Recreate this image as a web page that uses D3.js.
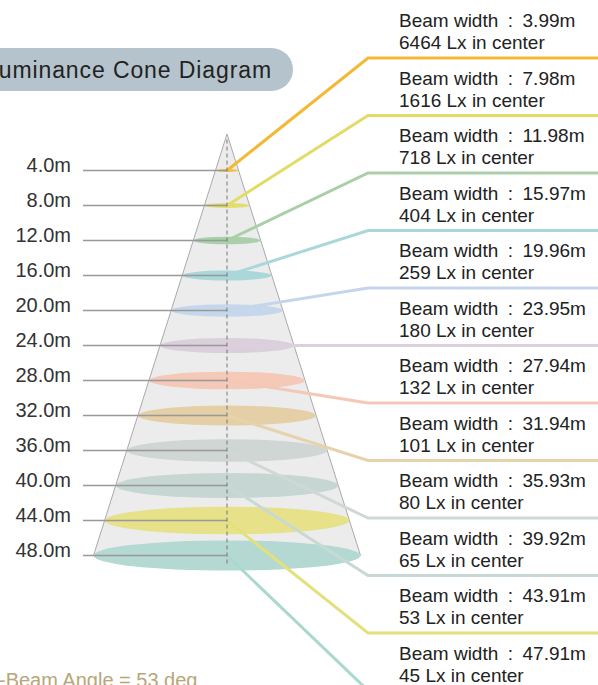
<!DOCTYPE html>
<html><head><meta charset="utf-8">
<script src="https://cdn.jsdelivr.net/npm/d3@7"></script>
<style>
html,body{margin:0;padding:0;background:#fff;overflow:hidden;}
svg{display:block;}
text{font-family:"Liberation Sans",Arial,sans-serif;}
</style></head>
<body>
<svg id="chart" width="598" height="685"></svg>
<script>
const depths = [4, 8, 12, 16, 20, 24, 28, 32, 36, 40, 44, 48];
const depthLabels = ["4.0m","8.0m","12.0m","16.0m","20.0m","24.0m","28.0m","32.0m","36.0m","40.0m","44.0m","48.0m"];
const beamWidths = [3.99, 7.98, 11.98, 15.97, 19.96, 23.95, 27.94, 31.94, 35.93, 39.92, 43.91, 47.91];
const luxCenter = [6464, 1616, 718, 404, 259, 180, 132, 101, 80, 65, 53, 45];
const ellipseColors = ["#f5bd3e","#e3dd6c","#a9d0ab","#a9d7da","#c6d7ec","#dacfdb","#f4c9b8","#e4cfa7","#cfd6d4","#c6d6d3","#e7e18a","#b4d8d2"];
const lineColors = ["#f4b934","#e2dc66","#a8cfa8","#aad7db","#c4d6ec","#dcd0dc","#f5c7b6","#e6d3ac","#d0d8d6","#c8d9d5","#e4e07c","#aad8cf"];
const title = "Illuminance Cone Diagram";
const footnote = "-Beam Angle = 53 deg";

const svg = d3.select("#chart");
const cx = 227;
const y = d3.scaleLinear().domain([0, 48]).range([135.5, 555.5]);
const w = d3.scaleLinear().domain([0, 47.91]).range([0, 267]);
const labelY = d3.scaleLinear().domain([0, 11]).range([58, 690.5]);
const ryRatio = 0.113;

// title pill
svg.append("rect").attr("x", -40).attr("y", 48).attr("width", 333).attr("height", 43)
  .attr("rx", 21.5).attr("fill", "#b5c4cc");
svg.append("text").attr("x", 272).attr("y", 78).attr("text-anchor", "end")
  .attr("font-size", 23).attr("letter-spacing", 0.9).attr("fill", "#222").text(title);

// cone
const bottomHalf = w(beamWidths[11]) / 2;
svg.append("path")
  .attr("d", `M${cx},${y(0) - 1.5} L${cx - bottomHalf},${y(48)} L${cx + bottomHalf},${y(48)} Z`)
  .attr("fill", "#ececec").attr("stroke", "#aaa").attr("stroke-width", 1);

// ellipses
svg.selectAll("ellipse.lvl").data(depths).join("ellipse")
  .attr("class", "lvl")
  .attr("cx", cx).attr("cy", d => y(d))
  .attr("rx", (d, i) => w(beamWidths[i]) / 2)
  .attr("ry", (d, i) => Math.max(1.5, w(beamWidths[i]) / 2 * ryRatio))
  .attr("fill", (d, i) => ellipseColors[i]);

// right leader lines
svg.selectAll("polyline.lead").data(depths).join("polyline")
  .attr("class", "lead")
  .attr("points", (d, i) => `${cx},${y(d)} 368,${labelY(i)} 600,${labelY(i)}`)
  .attr("fill", "none").attr("stroke", (d, i) => lineColors[i])
  .attr("stroke-width", 3).attr("stroke-linejoin", "miter");

// left gray lines
svg.selectAll("line.left").data(depths).join("line")
  .attr("class", "left")
  .attr("x1", 83).attr("x2", cx).attr("y1", d => y(d)).attr("y2", d => y(d))
  .attr("stroke", "#999").attr("stroke-width", 1.5);

// dashed axis
svg.append("line").attr("x1", cx).attr("x2", cx).attr("y1", y(0) + 4).attr("y2", 566)
  .attr("stroke", "#777").attr("stroke-width", 1).attr("stroke-dasharray", "4,3");

// left depth labels
svg.selectAll("text.depth").data(depths).join("text")
  .attr("class", "depth")
  .attr("x", 71).attr("y", d => y(d) + 1.5).attr("text-anchor", "end")
  .attr("font-size", 20).attr("fill", "#333")
  .text((d, i) => depthLabels[i]);

// right labels
const lab = svg.selectAll("g.lab").data(depths).join("g").attr("class", "lab");
lab.append("text").attr("x", 399).attr("y", (d, i) => labelY(i) - 31)
  .attr("font-size", 19).attr("fill", "#222")
  .text((d, i) => `Beam width\u2002:\u2002${beamWidths[i].toFixed(2)}m`);
lab.append("text").attr("x", 399).attr("y", (d, i) => labelY(i) - 9)
  .attr("font-size", 19).attr("fill", "#222")
  .text((d, i) => `${luxCenter[i]} Lx in center`);

// footnote
svg.append("text").attr("x", -1).attr("y", 687)
  .attr("font-size", 20).attr("fill", "#b7a679").text(footnote);
</script>
</body></html>
